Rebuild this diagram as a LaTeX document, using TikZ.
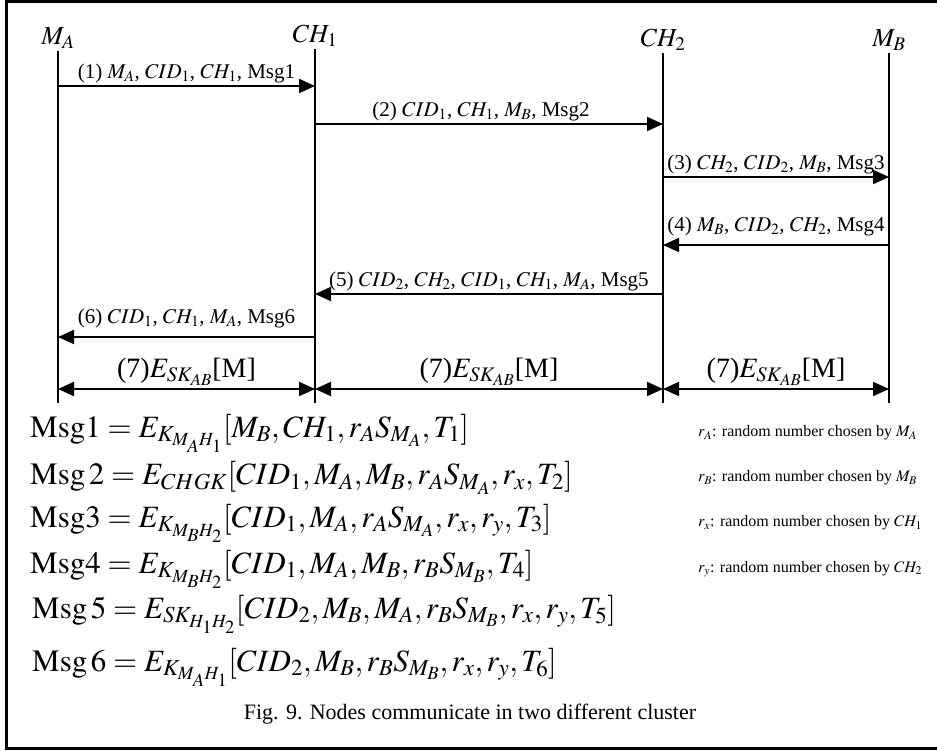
\documentclass[tikz,border=0pt]{standalone}
\usepackage{mathptmx}
\usepackage{fontspec}
\setmainfont{Liberation Serif}
\usetikzlibrary{arrows.meta, positioning}

\begin{document}
\begin{tikzpicture}[
  x=1pt, y=-1pt,
  head/.style={font=\fontsize{26}{28}\selectfont, inner sep=2pt},
  life/.style={line width=2pt},
  msg/.style={line width=2pt, -{Triangle[length=16pt, width=14pt]}},
  both/.style={line width=2pt, {Triangle[length=16pt, width=14pt]}-{Triangle[length=16pt, width=14pt]}},
  lbl/.style={font=\fontsize{21}{23}\selectfont, inner sep=2pt, above},
  big/.style={font=\fontsize{28}{30}\selectfont, inner sep=2pt, above},
  eq/.style={font=\fontsize{31}{33}\selectfont, anchor=west, inner sep=0pt},
  note/.style={font=\fontsize{16}{18}\selectfont, anchor=west, inner sep=0pt},
]
\useasboundingbox (0,0) rectangle (937,751);
% frame, open at the right
\draw[line width=3pt] (945,1.5) -- (6,1.5) -- (6,748) -- (945,748);

% the four parties
\node[head] (ma)  at (58,38)  {$M_A$};
\node[head] (ch1) at (315,36) {$CH_1$};
\node[head] (ch2) at (663,40) {$CH_2$};
\node[head] (mb)  at (889,40) {$M_B$};
\coordinate (bot) at (0,403);
\foreach \p in {ma,ch1,ch2,mb}{
  \draw[life] (\p.south) -- (\p |- bot);
}

% messages
\coordinate (y1) at (0,86);
\coordinate (y2) at (0,124);
\coordinate (y3) at (0,177);
\coordinate (y4) at (0,245);
\coordinate (y5) at (0,294);
\coordinate (y6) at (0,337);
\coordinate (y7) at (0,389);
\draw[msg] (ma |- y1) -- (ch1 |- y1) node[lbl, midway] {(1) $M_A$, $CID_1$, $CH_1$, Msg1};
\draw[msg] (ch1 |- y2) -- (ch2 |- y2) node[lbl, midway, xshift=-8pt] {(2) $CID_1$, $CH_1$, $M_B$, Msg2};
\draw[msg] (ch2 |- y3) -- (mb |- y3) node[lbl, midway] {(3) $CH_2$, $CID_2$, $M_B$, Msg3};
\draw[msg] (mb |- y4) -- (ch2 |- y4) node[lbl, midway, yshift=6pt] {(4) $M_B$, $CID_2$, $CH_2$, Msg4};
\draw[msg] (ch2 |- y5) -- (ch1 |- y5) node[lbl, midway] {(5) $CID_2$, $CH_2$, $CID_1$, $CH_1$, $M_A$, Msg5};
\draw[msg] (ch1 |- y6) -- (ma |- y6) node[lbl, midway, yshift=6pt] {(6) $CID_1$, $CH_1$, $M_A$, Msg6};
\draw[both] (ma |- y7) -- (ch1 |- y7) node[big, midway] {(7)$E_{SK_{AB}}$[M]};
\draw[both] (ch1 |- y7) -- (ch2 |- y7) node[big, midway] {(7)$E_{SK_{AB}}$[M]};
\draw[both] (ch2 |- y7) -- (mb |- y7) node[big, midway] {(7)$E_{SK_{AB}}$[M]};

% message contents
\node[eq] (m1) at (30,433) {$\mathrm{Msg1} = E_{K_{M_AH_1}}[M_B,CH_1,r_AS_{M_A},T_1]$};
\node[eq] (m2) at (30,478) {$\mathrm{Msg\,2} = E_{CHGK}[CID_1,M_A,M_B,r_AS_{M_A},r_x,T_2]$};
\node[eq] (m3) at (30,523) {$\mathrm{Msg3} = E_{K_{M_BH_2}}[CID_1,M_A,r_AS_{M_A},r_x,r_y,T_3]$};
\node[eq] (m4) at (30,569) {$\mathrm{Msg4} = E_{K_{M_BH_2}}[CID_1,M_A,M_B,r_BS_{M_B},T_4]$};
\node[eq] (m5) at (32,614) {$\mathrm{Msg\,5} = E_{SK_{H_1H_2}}[CID_2,M_B,M_A,r_BS_{M_B},r_x,r_y,T_5]$};
\node[eq] (m6) at (32,667) {$\mathrm{Msg\,6} = E_{K_{M_AH_1}}[CID_2,M_B,r_BS_{M_B},r_x,r_y,T_6]$};

\node[note] (na) at (698,433) {$r_A$: random number chosen by $M_A$};
\node[note] (nb) at (698,478) {$r_B$: random number chosen by $M_B$};
\node[note] (nx) at (698,523) {$r_x$: random number chosen by $CH_1$};
\node[note] (ny) at (698,569) {$r_y$: random number chosen by $CH_2$};

\node[font=\fontsize{22}{24}\selectfont] (cap) at (470,714) {Fig. 9. Nodes communicate in two different cluster};
\end{tikzpicture}
\end{document}
